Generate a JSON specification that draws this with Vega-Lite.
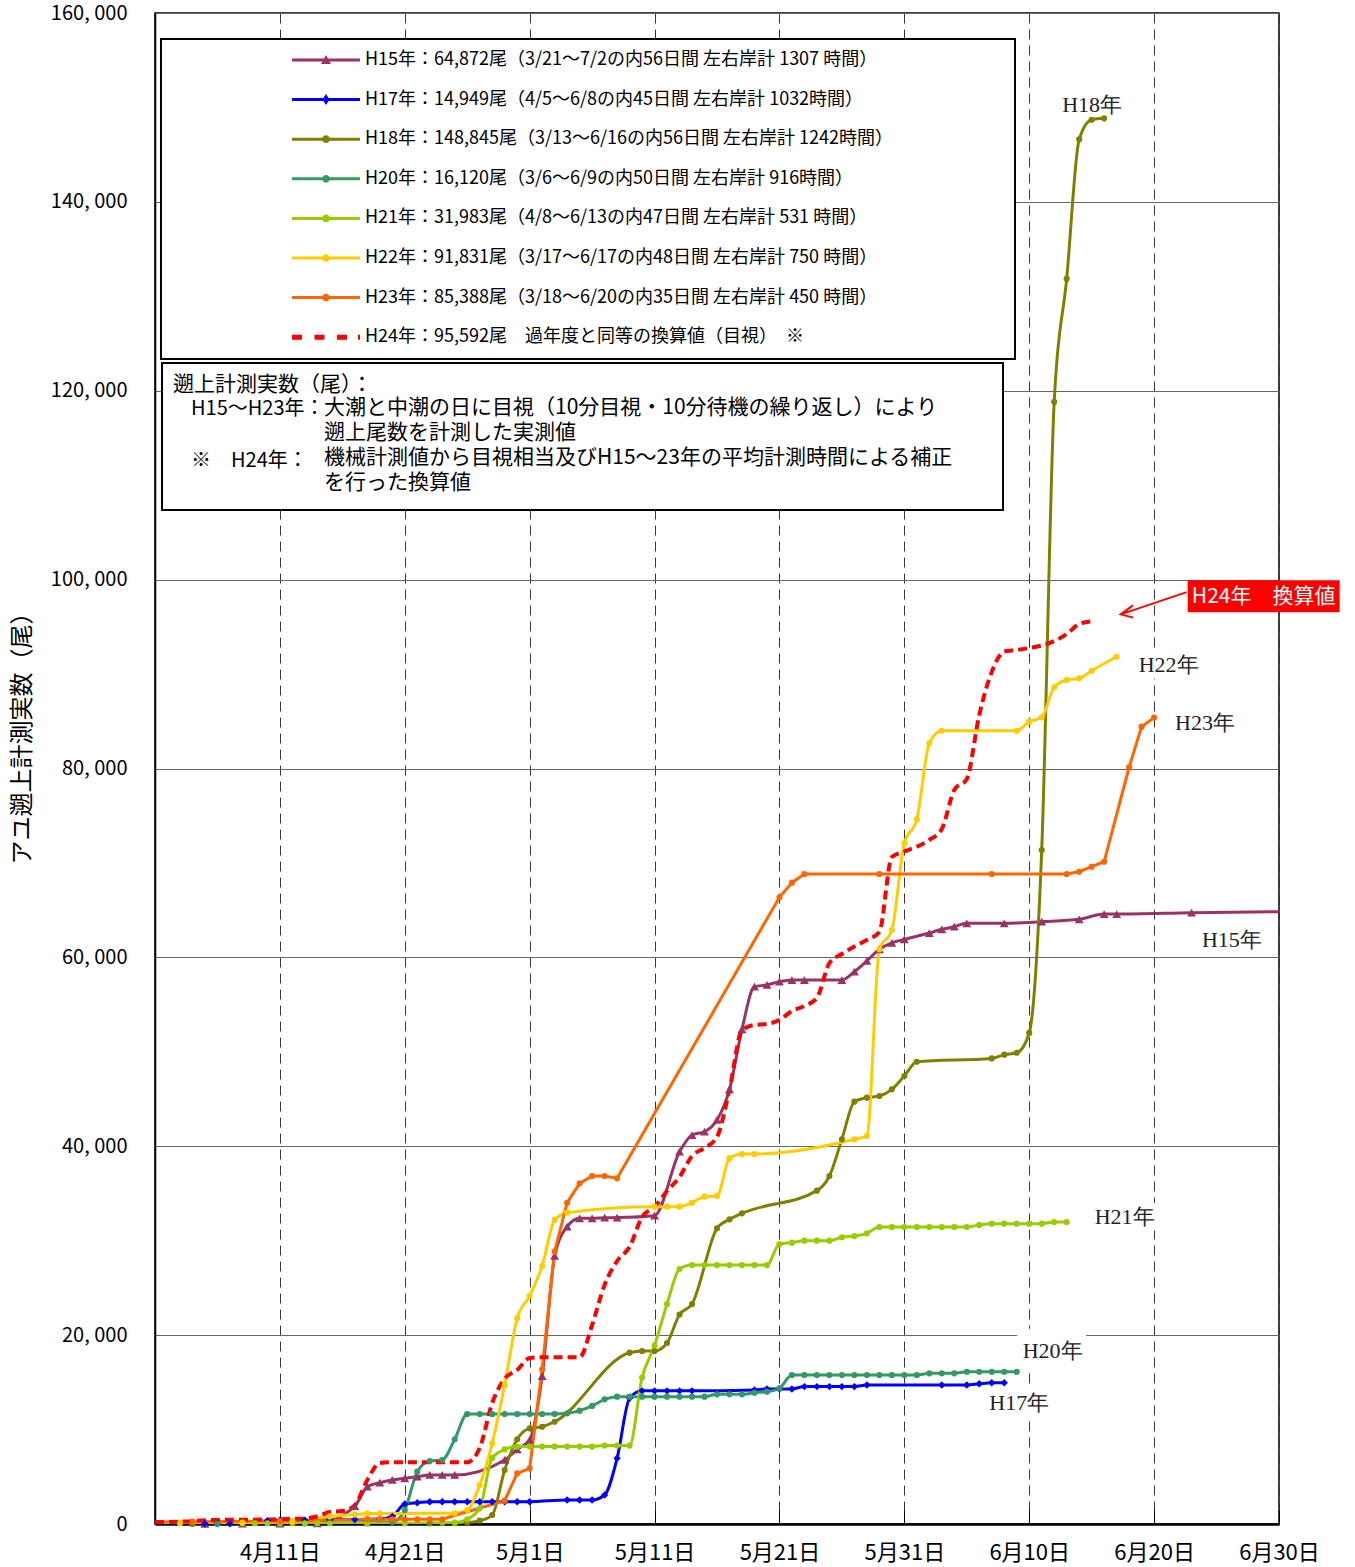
{
  "$schema": "https://vega.github.io/schema/vega-lite/v6.json",
  "width": 1124,
  "height": 1511,
  "autosize": {"type": "none"},
  "padding": {"left": 155, "top": 13, "right": 76, "bottom": 43},
  "background": "white",
  "config": {
    "font": "Noto Sans CJK JP",
    "view": {"stroke": "black", "strokeWidth": 1.5},
    "legend": {"strokeWidth": 2, "symbolFillColor": "black", "symbolOpacity": 1}
  },
  "data": {
    "format": {"parse": {"date": "date"}},
    "values": [
      {"series":"H15","date":"2012-03-21","value":0},{"series":"H15","date":"2012-03-28","value":0},{"series":"H15","date":"2012-04-05","value":20},{"series":"H15","date":"2012-04-08","value":30},{"series":"H15","date":"2012-04-11","value":40},{"series":"H15","date":"2012-04-14","value":60},{"series":"H15","date":"2012-04-17","value":1900},{"series":"H15","date":"2012-04-18","value":3950},{"series":"H15","date":"2012-04-19","value":4370},{"series":"H15","date":"2012-04-20","value":4660},{"series":"H15","date":"2012-04-21","value":4840},{"series":"H15","date":"2012-04-22","value":5010},{"series":"H15","date":"2012-04-23","value":5190},{"series":"H15","date":"2012-04-24","value":5190},{"series":"H15","date":"2012-04-25","value":5190},{"series":"H15","date":"2012-04-29","value":6780},{"series":"H15","date":"2012-04-30","value":7900},{"series":"H15","date":"2012-05-01","value":8900},{"series":"H15","date":"2012-05-02","value":15670},{"series":"H15","date":"2012-05-03","value":28380},{"series":"H15","date":"2012-05-04","value":31480},{"series":"H15","date":"2012-05-05","value":32370},{"series":"H15","date":"2012-05-06","value":32370},{"series":"H15","date":"2012-05-07","value":32430},{"series":"H15","date":"2012-05-08","value":32450},{"series":"H15","date":"2012-05-11","value":32650},{"series":"H15","date":"2012-05-13","value":39420},{"series":"H15","date":"2012-05-14","value":41190},{"series":"H15","date":"2012-05-15","value":41540},{"series":"H15","date":"2012-05-16","value":42780},{"series":"H15","date":"2012-05-17","value":46030},{"series":"H15","date":"2012-05-18","value":52380},{"series":"H15","date":"2012-05-19","value":56900},{"series":"H15","date":"2012-05-20","value":57080},{"series":"H15","date":"2012-05-21","value":57430},{"series":"H15","date":"2012-05-22","value":57600},{"series":"H15","date":"2012-05-23","value":57600},{"series":"H15","date":"2012-05-26","value":57600},{"series":"H15","date":"2012-05-27","value":58480},{"series":"H15","date":"2012-05-28","value":59620},{"series":"H15","date":"2012-05-29","value":60860},{"series":"H15","date":"2012-05-30","value":61540},{"series":"H15","date":"2012-05-31","value":61900},{"series":"H15","date":"2012-06-02","value":62580},{"series":"H15","date":"2012-06-03","value":62970},{"series":"H15","date":"2012-06-04","value":63250},{"series":"H15","date":"2012-06-05","value":63610},{"series":"H15","date":"2012-06-08","value":63610},{"series":"H15","date":"2012-06-11","value":63780},{"series":"H15","date":"2012-06-14","value":64030},{"series":"H15","date":"2012-06-16","value":64590},{"series":"H15","date":"2012-06-17","value":64590},{"series":"H15","date":"2012-06-23","value":64730},{"series":"H15","date":"2012-07-02","value":64872},
      {"series":"H17","date":"2012-04-05","value":30},{"series":"H17","date":"2012-04-06","value":30},{"series":"H17","date":"2012-04-07","value":30},{"series":"H17","date":"2012-04-10","value":350},{"series":"H17","date":"2012-04-11","value":400},{"series":"H17","date":"2012-04-13","value":400},{"series":"H17","date":"2012-04-15","value":450},{"series":"H17","date":"2012-04-17","value":480},{"series":"H17","date":"2012-04-19","value":520},{"series":"H17","date":"2012-04-20","value":800},{"series":"H17","date":"2012-04-21","value":2120},{"series":"H17","date":"2012-04-22","value":2250},{"series":"H17","date":"2012-04-23","value":2360},{"series":"H17","date":"2012-04-24","value":2360},{"series":"H17","date":"2012-04-25","value":2360},{"series":"H17","date":"2012-04-26","value":2360},{"series":"H17","date":"2012-04-27","value":2360},{"series":"H17","date":"2012-04-28","value":2360},{"series":"H17","date":"2012-04-29","value":2360},{"series":"H17","date":"2012-04-30","value":2360},{"series":"H17","date":"2012-05-01","value":2360},{"series":"H17","date":"2012-05-04","value":2540},{"series":"H17","date":"2012-05-05","value":2540},{"series":"H17","date":"2012-05-06","value":2540},{"series":"H17","date":"2012-05-07","value":3070},{"series":"H17","date":"2012-05-08","value":6960},{"series":"H17","date":"2012-05-09","value":13310},{"series":"H17","date":"2012-05-10","value":14100},{"series":"H17","date":"2012-05-11","value":14100},{"series":"H17","date":"2012-05-12","value":14100},{"series":"H17","date":"2012-05-13","value":14100},{"series":"H17","date":"2012-05-14","value":14100},{"series":"H17","date":"2012-05-19","value":14200},{"series":"H17","date":"2012-05-20","value":14300},{"series":"H17","date":"2012-05-21","value":14300},{"series":"H17","date":"2012-05-22","value":14300},{"series":"H17","date":"2012-05-23","value":14550},{"series":"H17","date":"2012-05-24","value":14550},{"series":"H17","date":"2012-05-25","value":14550},{"series":"H17","date":"2012-05-26","value":14550},{"series":"H17","date":"2012-05-27","value":14550},{"series":"H17","date":"2012-05-28","value":14720},{"series":"H17","date":"2012-06-03","value":14720},{"series":"H17","date":"2012-06-05","value":14720},{"series":"H17","date":"2012-06-06","value":14850},{"series":"H17","date":"2012-06-07","value":14949},{"series":"H17","date":"2012-06-08","value":14949},
      {"series":"H18","date":"2012-03-13","value":0},{"series":"H18","date":"2012-03-25","value":0},{"series":"H18","date":"2012-04-04","value":0},{"series":"H18","date":"2012-04-11","value":20},{"series":"H18","date":"2012-04-18","value":50},{"series":"H18","date":"2012-04-23","value":60},{"series":"H18","date":"2012-04-25","value":80},{"series":"H18","date":"2012-04-26","value":150},{"series":"H18","date":"2012-04-27","value":350},{"series":"H18","date":"2012-04-28","value":950},{"series":"H18","date":"2012-04-29","value":5720},{"series":"H18","date":"2012-04-30","value":8970},{"series":"H18","date":"2012-05-01","value":10130},{"series":"H18","date":"2012-05-02","value":10300},{"series":"H18","date":"2012-05-03","value":10830},{"series":"H18","date":"2012-05-09","value":18140},{"series":"H18","date":"2012-05-10","value":18320},{"series":"H18","date":"2012-05-11","value":18320},{"series":"H18","date":"2012-05-12","value":19170},{"series":"H18","date":"2012-05-13","value":22180},{"series":"H18","date":"2012-05-14","value":23300},{"series":"H18","date":"2012-05-16","value":31310},{"series":"H18","date":"2012-05-17","value":32260},{"series":"H18","date":"2012-05-18","value":32900},{"series":"H18","date":"2012-05-24","value":35300},{"series":"H18","date":"2012-05-25","value":36850},{"series":"H18","date":"2012-05-26","value":40735},{"series":"H18","date":"2012-05-27","value":44717},{"series":"H18","date":"2012-05-28","value":45141},{"series":"H18","date":"2012-05-29","value":45321},{"series":"H18","date":"2012-05-30","value":46030},{"series":"H18","date":"2012-05-31","value":47440},{"series":"H18","date":"2012-06-01","value":48950},{"series":"H18","date":"2012-06-07","value":49300},{"series":"H18","date":"2012-06-08","value":49700},{"series":"H18","date":"2012-06-09","value":49900},{"series":"H18","date":"2012-06-10","value":52000},{"series":"H18","date":"2012-06-11","value":71370},{"series":"H18","date":"2012-06-12","value":118830},{"series":"H18","date":"2012-06-13","value":131870},{"series":"H18","date":"2012-06-14","value":146620},{"series":"H18","date":"2012-06-15","value":148700},{"series":"H18","date":"2012-06-16","value":148845},
      {"series":"H20","date":"2012-03-06","value":0},{"series":"H20","date":"2012-03-20","value":0},{"series":"H20","date":"2012-04-06","value":0},{"series":"H20","date":"2012-04-13","value":50},{"series":"H20","date":"2012-04-20","value":200},{"series":"H20","date":"2012-04-21","value":1480},{"series":"H20","date":"2012-04-22","value":5540},{"series":"H20","date":"2012-04-23","value":6670},{"series":"H20","date":"2012-04-24","value":6780},{"series":"H20","date":"2012-04-25","value":8970},{"series":"H20","date":"2012-04-26","value":11650},{"series":"H20","date":"2012-04-27","value":11650},{"series":"H20","date":"2012-04-28","value":11650},{"series":"H20","date":"2012-04-29","value":11650},{"series":"H20","date":"2012-04-30","value":11650},{"series":"H20","date":"2012-05-01","value":11650},{"series":"H20","date":"2012-05-02","value":11650},{"series":"H20","date":"2012-05-03","value":11650},{"series":"H20","date":"2012-05-04","value":11720},{"series":"H20","date":"2012-05-05","value":12000},{"series":"H20","date":"2012-05-06","value":12500},{"series":"H20","date":"2012-05-07","value":13200},{"series":"H20","date":"2012-05-08","value":13480},{"series":"H20","date":"2012-05-09","value":13480},{"series":"H20","date":"2012-05-10","value":13480},{"series":"H20","date":"2012-05-11","value":13480},{"series":"H20","date":"2012-05-12","value":13480},{"series":"H20","date":"2012-05-13","value":13480},{"series":"H20","date":"2012-05-14","value":13480},{"series":"H20","date":"2012-05-15","value":13480},{"series":"H20","date":"2012-05-16","value":13730},{"series":"H20","date":"2012-05-17","value":13730},{"series":"H20","date":"2012-05-18","value":13730},{"series":"H20","date":"2012-05-19","value":13900},{"series":"H20","date":"2012-05-20","value":14010},{"series":"H20","date":"2012-05-21","value":14370},{"series":"H20","date":"2012-05-22","value":15780},{"series":"H20","date":"2012-05-23","value":15780},{"series":"H20","date":"2012-05-24","value":15780},{"series":"H20","date":"2012-05-25","value":15780},{"series":"H20","date":"2012-05-26","value":15780},{"series":"H20","date":"2012-05-27","value":15780},{"series":"H20","date":"2012-05-28","value":15780},{"series":"H20","date":"2012-05-29","value":15780},{"series":"H20","date":"2012-05-30","value":15780},{"series":"H20","date":"2012-05-31","value":15780},{"series":"H20","date":"2012-06-01","value":15780},{"series":"H20","date":"2012-06-02","value":15950},{"series":"H20","date":"2012-06-03","value":15950},{"series":"H20","date":"2012-06-04","value":15950},{"series":"H20","date":"2012-06-05","value":16120},{"series":"H20","date":"2012-06-06","value":16120},{"series":"H20","date":"2012-06-07","value":16120},{"series":"H20","date":"2012-06-08","value":16120},{"series":"H20","date":"2012-06-09","value":16120},
      {"series":"H21","date":"2012-04-08","value":70},{"series":"H21","date":"2012-04-09","value":70},{"series":"H21","date":"2012-04-10","value":70},{"series":"H21","date":"2012-04-11","value":70},{"series":"H21","date":"2012-04-12","value":70},{"series":"H21","date":"2012-04-13","value":70},{"series":"H21","date":"2012-04-14","value":70},{"series":"H21","date":"2012-04-15","value":70},{"series":"H21","date":"2012-04-18","value":80},{"series":"H21","date":"2012-04-21","value":90},{"series":"H21","date":"2012-04-24","value":140},{"series":"H21","date":"2012-04-25","value":140},{"series":"H21","date":"2012-04-26","value":500},{"series":"H21","date":"2012-04-27","value":1660},{"series":"H21","date":"2012-04-28","value":7000},{"series":"H21","date":"2012-04-29","value":7900},{"series":"H21","date":"2012-04-30","value":8200},{"series":"H21","date":"2012-05-01","value":8200},{"series":"H21","date":"2012-05-02","value":8200},{"series":"H21","date":"2012-05-03","value":8200},{"series":"H21","date":"2012-05-04","value":8200},{"series":"H21","date":"2012-05-05","value":8200},{"series":"H21","date":"2012-05-06","value":8200},{"series":"H21","date":"2012-05-07","value":8300},{"series":"H21","date":"2012-05-08","value":8300},{"series":"H21","date":"2012-05-09","value":8300},{"series":"H21","date":"2012-05-10","value":15500},{"series":"H21","date":"2012-05-11","value":18900},{"series":"H21","date":"2012-05-12","value":23300},{"series":"H21","date":"2012-05-13","value":27000},{"series":"H21","date":"2012-05-14","value":27420},{"series":"H21","date":"2012-05-15","value":27420},{"series":"H21","date":"2012-05-16","value":27420},{"series":"H21","date":"2012-05-17","value":27420},{"series":"H21","date":"2012-05-18","value":27420},{"series":"H21","date":"2012-05-19","value":27420},{"series":"H21","date":"2012-05-20","value":27420},{"series":"H21","date":"2012-05-21","value":29650},{"series":"H21","date":"2012-05-22","value":29790},{"series":"H21","date":"2012-05-23","value":30000},{"series":"H21","date":"2012-05-24","value":30000},{"series":"H21","date":"2012-05-25","value":30000},{"series":"H21","date":"2012-05-26","value":30360},{"series":"H21","date":"2012-05-27","value":30500},{"series":"H21","date":"2012-05-28","value":30780},{"series":"H21","date":"2012-05-29","value":31450},{"series":"H21","date":"2012-05-30","value":31450},{"series":"H21","date":"2012-05-31","value":31450},{"series":"H21","date":"2012-06-01","value":31450},{"series":"H21","date":"2012-06-02","value":31450},{"series":"H21","date":"2012-06-03","value":31450},{"series":"H21","date":"2012-06-04","value":31450},{"series":"H21","date":"2012-06-05","value":31450},{"series":"H21","date":"2012-06-06","value":31670},{"series":"H21","date":"2012-06-07","value":31800},{"series":"H21","date":"2012-06-08","value":31800},{"series":"H21","date":"2012-06-09","value":31800},{"series":"H21","date":"2012-06-10","value":31800},{"series":"H21","date":"2012-06-11","value":31800},{"series":"H21","date":"2012-06-12","value":31983},{"series":"H21","date":"2012-06-13","value":31983},
      {"series":"H22","date":"2012-03-17","value":0},{"series":"H22","date":"2012-03-28","value":50},{"series":"H22","date":"2012-04-03","value":80},{"series":"H22","date":"2012-04-08","value":150},{"series":"H22","date":"2012-04-12","value":300},{"series":"H22","date":"2012-04-15","value":800},{"series":"H22","date":"2012-04-17","value":1000},{"series":"H22","date":"2012-04-18","value":1100},{"series":"H22","date":"2012-04-19","value":1100},{"series":"H22","date":"2012-04-25","value":1130},{"series":"H22","date":"2012-04-26","value":1480},{"series":"H22","date":"2012-04-27","value":4130},{"series":"H22","date":"2012-04-28","value":8545},{"series":"H22","date":"2012-04-29","value":14720},{"series":"H22","date":"2012-04-30","value":21780},{"series":"H22","date":"2012-05-01","value":24140},{"series":"H22","date":"2012-05-02","value":27320},{"series":"H22","date":"2012-05-03","value":32190},{"series":"H22","date":"2012-05-04","value":32970},{"series":"H22","date":"2012-05-11","value":33600},{"series":"H22","date":"2012-05-12","value":33600},{"series":"H22","date":"2012-05-13","value":33600},{"series":"H22","date":"2012-05-14","value":34020},{"series":"H22","date":"2012-05-15","value":34660},{"series":"H22","date":"2012-05-16","value":34730},{"series":"H22","date":"2012-05-17","value":38720},{"series":"H22","date":"2012-05-18","value":39180},{"series":"H22","date":"2012-05-19","value":39180},{"series":"H22","date":"2012-05-27","value":40735},{"series":"H22","date":"2012-05-28","value":41085},{"series":"H22","date":"2012-05-29","value":60855},{"series":"H22","date":"2012-05-30","value":62900},{"series":"H22","date":"2012-05-31","value":72080},{"series":"H22","date":"2012-06-01","value":74620},{"series":"H22","date":"2012-06-02","value":82670},{"series":"H22","date":"2012-06-03","value":84000},{"series":"H22","date":"2012-06-09","value":84000},{"series":"H22","date":"2012-06-10","value":84955},{"series":"H22","date":"2012-06-11","value":85420},{"series":"H22","date":"2012-06-12","value":88600},{"series":"H22","date":"2012-06-13","value":89370},{"series":"H22","date":"2012-06-14","value":89550},{"series":"H22","date":"2012-06-15","value":90350},{"series":"H22","date":"2012-06-17","value":91831},
      {"series":"H23","date":"2012-03-18","value":0},{"series":"H23","date":"2012-03-30","value":200},{"series":"H23","date":"2012-04-04","value":250},{"series":"H23","date":"2012-04-11","value":300},{"series":"H23","date":"2012-04-18","value":500},{"series":"H23","date":"2012-04-19","value":500},{"series":"H23","date":"2012-04-20","value":500},{"series":"H23","date":"2012-04-21","value":500},{"series":"H23","date":"2012-04-22","value":500},{"series":"H23","date":"2012-04-23","value":500},{"series":"H23","date":"2012-04-24","value":500},{"series":"H23","date":"2012-04-29","value":2470},{"series":"H23","date":"2012-04-30","value":5365},{"series":"H23","date":"2012-05-01","value":5895},{"series":"H23","date":"2012-05-02","value":16380},{"series":"H23","date":"2012-05-03","value":28840},{"series":"H23","date":"2012-05-04","value":34020},{"series":"H23","date":"2012-05-05","value":36070},{"series":"H23","date":"2012-05-06","value":36850},{"series":"H23","date":"2012-05-07","value":36850},{"series":"H23","date":"2012-05-08","value":36600},{"series":"H23","date":"2012-05-21","value":66360},{"series":"H23","date":"2012-05-22","value":67910},{"series":"H23","date":"2012-05-23","value":68830},{"series":"H23","date":"2012-05-29","value":68830},{"series":"H23","date":"2012-06-07","value":68830},{"series":"H23","date":"2012-06-13","value":68830},{"series":"H23","date":"2012-06-14","value":69070},{"series":"H23","date":"2012-06-15","value":69600},{"series":"H23","date":"2012-06-16","value":70130},{"series":"H23","date":"2012-06-18","value":80130},{"series":"H23","date":"2012-06-19","value":84430},{"series":"H23","date":"2012-06-20","value":85388},
      {"series":"H24","date":"2012-04-01","value":200},{"series":"H24","date":"2012-04-02","value":220},{"series":"H24","date":"2012-04-03","value":250},{"series":"H24","date":"2012-04-04","value":300},{"series":"H24","date":"2012-04-05","value":400},{"series":"H24","date":"2012-04-06","value":420},{"series":"H24","date":"2012-04-07","value":450},{"series":"H24","date":"2012-04-08","value":450},{"series":"H24","date":"2012-04-09","value":450},{"series":"H24","date":"2012-04-10","value":480},{"series":"H24","date":"2012-04-11","value":500},{"series":"H24","date":"2012-04-12","value":550},{"series":"H24","date":"2012-04-13","value":600},{"series":"H24","date":"2012-04-14","value":800},{"series":"H24","date":"2012-04-15","value":1270},{"series":"H24","date":"2012-04-16","value":1380},{"series":"H24","date":"2012-04-17","value":2000},{"series":"H24","date":"2012-04-18","value":4660},{"series":"H24","date":"2012-04-19","value":6450},{"series":"H24","date":"2012-04-20","value":6550},{"series":"H24","date":"2012-04-21","value":6550},{"series":"H24","date":"2012-04-22","value":6550},{"series":"H24","date":"2012-04-23","value":6550},{"series":"H24","date":"2012-04-24","value":6550},{"series":"H24","date":"2012-04-25","value":6550},{"series":"H24","date":"2012-04-26","value":6550},{"series":"H24","date":"2012-04-27","value":8050},{"series":"H24","date":"2012-04-28","value":12810},{"series":"H24","date":"2012-04-29","value":15400},{"series":"H24","date":"2012-04-30","value":16300},{"series":"H24","date":"2012-05-01","value":17580},{"series":"H24","date":"2012-05-02","value":17650},{"series":"H24","date":"2012-05-03","value":17650},{"series":"H24","date":"2012-05-04","value":17650},{"series":"H24","date":"2012-05-05","value":17650},{"series":"H24","date":"2012-05-06","value":21070},{"series":"H24","date":"2012-05-07","value":25310},{"series":"H24","date":"2012-05-08","value":27850},{"series":"H24","date":"2012-05-09","value":29330},{"series":"H24","date":"2012-05-10","value":32510},{"series":"H24","date":"2012-05-11","value":33570},{"series":"H24","date":"2012-05-12","value":35260},{"series":"H24","date":"2012-05-13","value":36740},{"series":"H24","date":"2012-05-14","value":38970},{"series":"H24","date":"2012-05-15","value":39810},{"series":"H24","date":"2012-05-16","value":40980},{"series":"H24","date":"2012-05-17","value":46000},{"series":"H24","date":"2012-05-18","value":52300},{"series":"H24","date":"2012-05-19","value":52840},{"series":"H24","date":"2012-05-20","value":52950},{"series":"H24","date":"2012-05-21","value":53370},{"series":"H24","date":"2012-05-22","value":54320},{"series":"H24","date":"2012-05-23","value":54850},{"series":"H24","date":"2012-05-24","value":55700},{"series":"H24","date":"2012-05-25","value":59400},{"series":"H24","date":"2012-05-26","value":60360},{"series":"H24","date":"2012-05-27","value":61150},{"series":"H24","date":"2012-05-28","value":61840},{"series":"H24","date":"2012-05-29","value":62690},{"series":"H24","date":"2012-05-30","value":70630},{"series":"H24","date":"2012-05-31","value":71210},{"series":"H24","date":"2012-06-01","value":71720},{"series":"H24","date":"2012-06-02","value":72430},{"series":"H24","date":"2012-06-03","value":73590},{"series":"H24","date":"2012-06-04","value":77720},{"series":"H24","date":"2012-06-05","value":78890},{"series":"H24","date":"2012-06-06","value":85670},{"series":"H24","date":"2012-06-07","value":90220},{"series":"H24","date":"2012-06-08","value":92390},{"series":"H24","date":"2012-06-09","value":92550},{"series":"H24","date":"2012-06-10","value":92760},{"series":"H24","date":"2012-06-11","value":93020},{"series":"H24","date":"2012-06-12","value":93500},{"series":"H24","date":"2012-06-13","value":94240},{"series":"H24","date":"2012-06-14","value":95300},{"series":"H24","date":"2012-06-15","value":95592}
    ]
  },
  "layer": [
    {
      "transform": [{"filter": "datum.series == 'H22'"}],
      "mark": {"type": "point", "shape": "M-1,-0.42H1V0.42H-1Z", "size": 4356, "filled": true, "color": "white", "opacity": 1, "xOffset": 52, "yOffset": 8},
      "encoding": {"x": {"aggregate": "max", "field": "date", "type": "temporal"}, "y": {"aggregate": "max", "field": "value", "type": "quantitative"}}
    },
    {
      "transform": [{"filter": "datum.series == 'H21'"}],
      "mark": {"type": "point", "shape": "M-1,-0.42H1V0.42H-1Z", "size": 4356, "filled": true, "color": "white", "opacity": 1, "xOffset": 58, "yOffset": -5},
      "encoding": {"x": {"aggregate": "max", "field": "date", "type": "temporal"}, "y": {"aggregate": "max", "field": "value", "type": "quantitative"}}
    },
    {
      "transform": [{"filter": "datum.series == 'H20'"}],
      "mark": {"type": "point", "shape": "M-1,-0.58H1V0.58H-1Z", "size": 4761, "filled": true, "color": "white", "opacity": 1, "xOffset": 35, "yOffset": -23},
      "encoding": {"x": {"aggregate": "max", "field": "date", "type": "temporal"}, "y": {"aggregate": "max", "field": "value", "type": "quantitative"}}
    },
    {
      "transform": [{"filter": "datum.series == 'H17'"}],
      "mark": {"type": "point", "shape": "M-1,-0.42H1V0.42H-1Z", "size": 4356, "filled": true, "color": "white", "opacity": 1, "xOffset": 15, "yOffset": 20},
      "encoding": {"x": {"aggregate": "max", "field": "date", "type": "temporal"}, "y": {"aggregate": "max", "field": "value", "type": "quantitative"}}
    },
    {
      "transform": [{"filter": "datum.series == 'H18'"}],
      "mark": {"type": "text", "text": "H18年", "font": "Liberation Serif", "fontSize": 22, "color": "#222", "align": "left", "baseline": "middle", "dx": -42, "dy": -13},
      "encoding": {"x": {"aggregate": "max", "field": "date", "type": "temporal"}, "y": {"aggregate": "max", "field": "value", "type": "quantitative"}}
    },
    {
      "transform": [{"filter": "datum.series == 'H22'"}],
      "mark": {"type": "text", "text": "H22年", "font": "Liberation Serif", "fontSize": 22, "color": "#222", "align": "left", "baseline": "middle", "dx": 22, "dy": 8},
      "encoding": {"x": {"aggregate": "max", "field": "date", "type": "temporal"}, "y": {"aggregate": "max", "field": "value", "type": "quantitative"}}
    },
    {
      "transform": [{"filter": "datum.series == 'H23'"}],
      "mark": {"type": "text", "text": "H23年", "font": "Liberation Serif", "fontSize": 22, "color": "#222", "align": "left", "baseline": "middle", "dx": 21, "dy": 5},
      "encoding": {"x": {"aggregate": "max", "field": "date", "type": "temporal"}, "y": {"aggregate": "max", "field": "value", "type": "quantitative"}}
    },
    {
      "transform": [{"filter": "datum.series == 'H15'"}],
      "mark": {"type": "text", "text": "H15年", "font": "Liberation Serif", "fontSize": 22, "color": "#222", "align": "left", "baseline": "middle", "dx": -102, "dy": 29},
      "encoding": {"x": {"aggregate": "max", "field": "date", "type": "temporal"}, "y": {"aggregate": "max", "field": "value", "type": "quantitative"}}
    },
    {
      "transform": [{"filter": "datum.series == 'H21'"}],
      "mark": {"type": "text", "text": "H21年", "font": "Liberation Serif", "fontSize": 22, "color": "#222", "align": "left", "baseline": "middle", "dx": 28, "dy": -5},
      "encoding": {"x": {"aggregate": "max", "field": "date", "type": "temporal"}, "y": {"aggregate": "max", "field": "value", "type": "quantitative"}}
    },
    {
      "transform": [{"filter": "datum.series == 'H20'"}],
      "mark": {"type": "text", "text": "H20年", "font": "Liberation Serif", "fontSize": 22, "color": "#222", "align": "left", "baseline": "middle", "dx": 6, "dy": -21},
      "encoding": {"x": {"aggregate": "max", "field": "date", "type": "temporal"}, "y": {"aggregate": "max", "field": "value", "type": "quantitative"}}
    },
    {
      "transform": [{"filter": "datum.series == 'H17'"}],
      "mark": {"type": "text", "text": "H17年", "font": "Liberation Serif", "fontSize": 22, "color": "#222", "align": "left", "baseline": "middle", "dx": -15, "dy": 20},
      "encoding": {"x": {"aggregate": "max", "field": "date", "type": "temporal"}, "y": {"aggregate": "max", "field": "value", "type": "quantitative"}}
    },
    {
      "transform": [{"filter": "datum.series != 'H23' && datum.series != 'H24'"}],
      "mark": {"type": "line", "strokeWidth": 3, "interpolate": "monotone", "clip": true},
      "encoding": {
        "x": {
          "field": "date", "type": "temporal",
          "scale": {"type": "utc", "nice": false, "domain": [{"year": 2012, "month": 4, "date": 1, "utc": true}, {"year": 2012, "month": 6, "date": 30, "utc": true}]},
          "axis": {
            "title": null,
            "values": [{"year":2012,"month":4,"date":11,"utc":true},{"year":2012,"month":4,"date":21,"utc":true},{"year":2012,"month":5,"date":1,"utc":true},{"year":2012,"month":5,"date":11,"utc":true},{"year":2012,"month":5,"date":21,"utc":true},{"year":2012,"month":5,"date":31,"utc":true},{"year":2012,"month":6,"date":10,"utc":true},{"year":2012,"month":6,"date":20,"utc":true},{"year":2012,"month":6,"date":30,"utc":true}],
            "format": "%-m月%-d日",
            "grid": true, "gridDash": [10, 6], "gridColor": "#333", "gridWidth": 1,
            "domain": true, "domainColor": "black", "domainWidth": 2.5,
            "ticks": true, "tickSize": -14, "tickColor": "black", "tickWidth": 1,
            "labelFontSize": 22, "labelColor": "black", "labelPadding": 32, "labelFlush": false, "labelOverlap": false
          }
        },
        "y": {
          "field": "value", "type": "quantitative",
          "scale": {"domain": [0, 160000], "nice": false},
          "axis": {
            "title": "アユ遡上計測実数（尾）",
            "titleFontSize": 24, "titleFontWeight": "normal", "titleColor": "black",
            "titleX": -133, "titleY": 719, "titleAngle": -90, "titleAlign": "center", "titleBaseline": "middle",
            "values": [0, 20000, 40000, 60000, 80000, 100000, 120000, 140000, 160000],
            "format": ",d",
            "labelExpr": "replace(datum.label, ',', ', ')",
            "grid": true, "gridColor": "#666", "gridWidth": 1,
            "domain": true, "domainColor": "black", "domainWidth": 1.5,
            "ticks": false,
            "labelFontSize": 20, "labelColor": "black", "labelPadding": 28
          }
        },
        "color": {
          "field": "series", "type": "nominal", "legend": null,
          "scale": {"range": ["#993366","#0000FF","#808000","#339966","#99CC00","#FFCC00","#FF6600"]}
        }
      }
    },
    {
      "transform": [{"filter": "datum.series == 'H23'"}],
      "mark": {"type": "line", "strokeWidth": 3, "interpolate": "linear", "clip": true},
      "encoding": {
        "x": {"field": "date", "type": "temporal"},
        "y": {"field": "value", "type": "quantitative"},
        "color": {"field": "series", "type": "nominal", "legend": null}
      }
    },
    {
      "transform": [{"filter": "datum.series == 'H24'"}],
      "mark": {"type": "line", "strokeWidth": 4, "strokeDash": [9, 5], "color": "#FF0000", "interpolate": "monotone", "clip": true},
      "encoding": {
        "x": {"field": "date", "type": "temporal"},
        "y": {"field": "value", "type": "quantitative"}
      }
    },
    {
      "transform": [{"filter": "datum.series == 'H15' && time(datum.date) >= utc(2012,3,1) && time(datum.date) <= utc(2012,5,30)"}],
      "mark": {"type": "point", "shape": "triangle-up", "size": 80, "filled": true, "opacity": 1},
      "encoding": {
        "x": {"field": "date", "type": "temporal"},
        "y": {"field": "value", "type": "quantitative"},
        "color": {"field": "series", "type": "nominal", "legend": null}
      }
    },
    {
      "transform": [{"filter": "datum.series == 'H17' && time(datum.date) >= utc(2012,3,1) && time(datum.date) <= utc(2012,5,30)"}],
      "mark": {"type": "point", "shape": "diamond", "size": 55, "filled": true, "opacity": 1},
      "encoding": {
        "x": {"field": "date", "type": "temporal"},
        "y": {"field": "value", "type": "quantitative"},
        "color": {"field": "series", "type": "nominal", "legend": null}
      }
    },
    {
      "transform": [{"filter": "datum.series != 'H15' && datum.series != 'H17' && datum.series != 'H24' && time(datum.date) >= utc(2012,3,1) && time(datum.date) <= utc(2012,5,30)"}],
      "mark": {"type": "point", "shape": "circle", "size": 38, "filled": true, "opacity": 1},
      "encoding": {
        "x": {"field": "date", "type": "temporal"},
        "y": {"field": "value", "type": "quantitative"},
        "color": {"field": "series", "type": "nominal", "legend": null}
      }
    },
    {
      "transform": [{"filter": "datum.series == 'H24'"}],
      "mark": {"type": "point", "shape": "M-1,-0.2105H1V0.2105H-1Z", "size": 23104, "filled": true, "color": "#FF0000", "opacity": 1, "xOffset": 172, "yOffset": -25},
      "encoding": {"x": {"aggregate": "max", "field": "date", "type": "temporal"}, "y": {"aggregate": "max", "field": "value", "type": "quantitative"}}
    },
    {
      "transform": [{"filter": "datum.series == 'H24'"}],
      "mark": {"type": "text", "text": "H24年　換算値", "fontSize": 21, "color": "white", "align": "center", "baseline": "middle", "dx": 172, "dy": -24},
      "encoding": {"x": {"aggregate": "max", "field": "date", "type": "temporal"}, "y": {"aggregate": "max", "field": "value", "type": "quantitative"}}
    },
    {
      "transform": [{"filter": "datum.series == 'H24'"}],
      "mark": {"type": "point", "shape": "M1,-0.338L-1,0.338M-0.627,0.064L-1,0.338L-0.618,0.436", "size": 4356, "filled": false, "color": "#FF0000", "strokeWidth": 2, "opacity": 1, "xOffset": 62, "yOffset": -18},
      "encoding": {"x": {"aggregate": "max", "field": "date", "type": "temporal"}, "y": {"aggregate": "max", "field": "value", "type": "quantitative"}}
    },
    {
      "transform": [{"aggregate": [{"op": "count", "as": "n"}], "groupby": ["series"]}],
      "mark": {"type": "point", "filled": true, "opacity": 1},
      "encoding": {
        "fillOpacity": {"value": 0},
        "fill": {
          "field": "series", "type": "nominal",
          "scale": {"domain": ["H15","H17","H18","H20","H21","H22","H23","H24"], "range": ["#993366","#0000FF","#808000","#339966","#99CC00","#FFCC00","#FF6600","#FF0000"]},
          "legend": {
            "title": null, "orient": "none", "legendX": 6, "legendY": 26, "padding": 12,
            "fillColor": "white", "strokeColor": "black",
            "symbolSize": 196, "symbolStrokeWidth": 0, "symbolStrokeColor": "transparent", "symbolOpacity": 1, "symbolFillColor": "black",
            "symbolOffset": 144, "labelOffset": 30,
            "labelFontSize": 18, "labelColor": "black", "labelLimit": 0, "rowPadding": 21.6,
            "labelExpr": "datum.label == 'H15' ? 'H15年：64,872尾（3/21～7/2の内56日間 左右岸計 1307 時間）' : datum.label == 'H17' ? 'H17年：14,949尾（4/5～6/8の内45日間 左右岸計 1032時間）' : datum.label == 'H18' ? 'H18年：148,845尾（3/13～6/16の内56日間 左右岸計 1242時間）' : datum.label == 'H20' ? 'H20年：16,120尾（3/6～6/9の内50日間 左右岸計 916時間）' : datum.label == 'H21' ? 'H21年：31,983尾（4/8～6/13の内47日間 左右岸計 531 時間）' : datum.label == 'H22' ? 'H22年：91,831尾（3/17～6/17の内48日間 左右岸計 750 時間）' : datum.label == 'H23' ? 'H23年：85,388尾（3/18～6/20の内35日間 左右岸計 450 時間）' : 'H24年：95,592尾\u3000過年度と同等の換算値（目視）\u3000※'"
          }
        },
        "shape": {
          "field": "series", "type": "nominal",
          "scale": {"domain": ["H15","H17","H18","H20","H21","H22","H23","H24"], "range": [
            "M-4.857,-0.214H4.857V0.214H-4.857Z M0,-0.714L0.714,0.571L-0.714,0.571Z",
            "M-4.857,-0.214H4.857V0.214H-4.857Z M0,-0.786L0.5,0L0,0.786L-0.5,0Z",
            "M-4.857,-0.214H4.857V0.214H-4.857Z M0.55,0A0.55,0.55,0,1,1,-0.55,0A0.55,0.55,0,1,1,0.55,0Z M96.7,0L96.71,0",
            "M-4.857,-0.214H4.857V0.214H-4.857Z M0.55,0A0.55,0.55,0,1,1,-0.55,0A0.55,0.55,0,1,1,0.55,0Z",
            "M-4.857,-0.214H4.857V0.214H-4.857Z M0.55,0A0.55,0.55,0,1,1,-0.55,0A0.55,0.55,0,1,1,0.55,0Z",
            "M-4.857,-0.214H4.857V0.214H-4.857Z M0.55,0A0.55,0.55,0,1,1,-0.55,0A0.55,0.55,0,1,1,0.55,0Z",
            "M-4.857,-0.214H4.857V0.214H-4.857Z M0.55,0A0.55,0.55,0,1,1,-0.55,0A0.55,0.55,0,1,1,0.55,0Z",
            "M-4.857,-0.357H-3.429V0.357H-4.857Z M-1.643,-0.357H-0.214V0.357H-1.643Z M1.571,-0.357H3V0.357H1.571Z M4.571,-0.357H4.857V0.357H4.571Z"
          ]}
        }
      }
    },
    {
      "data": {"values": [{"part": "n1"}, {"part": "n2"}, {"part": "n3"}, {"part": "n4"}]},
      "mark": {"type": "point", "opacity": 0},
      "encoding": {
        "stroke": {
          "field": "part", "type": "nominal",
          "scale": {"domain": ["n1","n2","n3","n4"], "range": ["transparent", "transparent", "transparent", "transparent"]},
          "legend": {
            "title": "遡上計測実数（尾）：", "orient": "none", "legendX": 7, "legendY": 350, "padding": 11,
            "fillColor": "white", "strokeColor": "black",
            "titleFontSize": 21, "titleFontWeight": "normal", "titleColor": "black", "titlePadding": 4, "titleLimit": 0, "titleAnchor": "start",
            "labelFontSize": 20, "labelColor": "black", "labelLimit": 0, "labelOffset": -2,
            "symbolSize": 400, "symbolType": "M0,-1.15L0,-1.149M0,1.149L0,1.15M80.85,0L80.86,0", "symbolStrokeWidth": 0, "symbolOpacity": 0, "rowPadding": 2,
            "labelExpr": "datum.label == 'n1' ? 'H15～H23年：' : datum.label == 'n3' ? '※　H24年：' : ''"
          }
        }
      }
    },
    {
      "data": {"values": [{"line": "m1"}, {"line": "m2"}, {"line": "m3"}, {"line": "m4"}]},
      "mark": {"type": "point", "opacity": 0},
      "encoding": {
        "strokeDash": {
          "field": "line", "type": "nominal",
          "scale": {"domain": ["m1","m2","m3","m4"], "range": [[1, 0], [1, 0], [1, 0], [1, 0]]},
          "legend": {
            "title": null, "orient": "none", "legendX": 150, "legendY": 384, "padding": 0,
            "fillColor": null, "strokeColor": null,
            "labelFontSize": 21, "labelColor": "black", "labelLimit": 0, "labelOffset": -2,
            "symbolSize": 400, "symbolType": "M0,-1.15L0,-1.149M0,1.149L0,1.15", "symbolStrokeWidth": 0, "symbolStrokeColor": "transparent", "symbolOpacity": 0, "rowPadding": 2,
            "labelExpr": "datum.label == 'm1' ? '大潮と中潮の日に目視（10分目視・10分待機の繰り返し）により' : datum.label == 'm2' ? '遡上尾数を計測した実測値' : datum.label == 'm3' ? '機械計測値から目視相当及びH15～23年の平均計測時間による補正' : 'を行った換算値'"
          }
        }
      }
    }
  ]
}
